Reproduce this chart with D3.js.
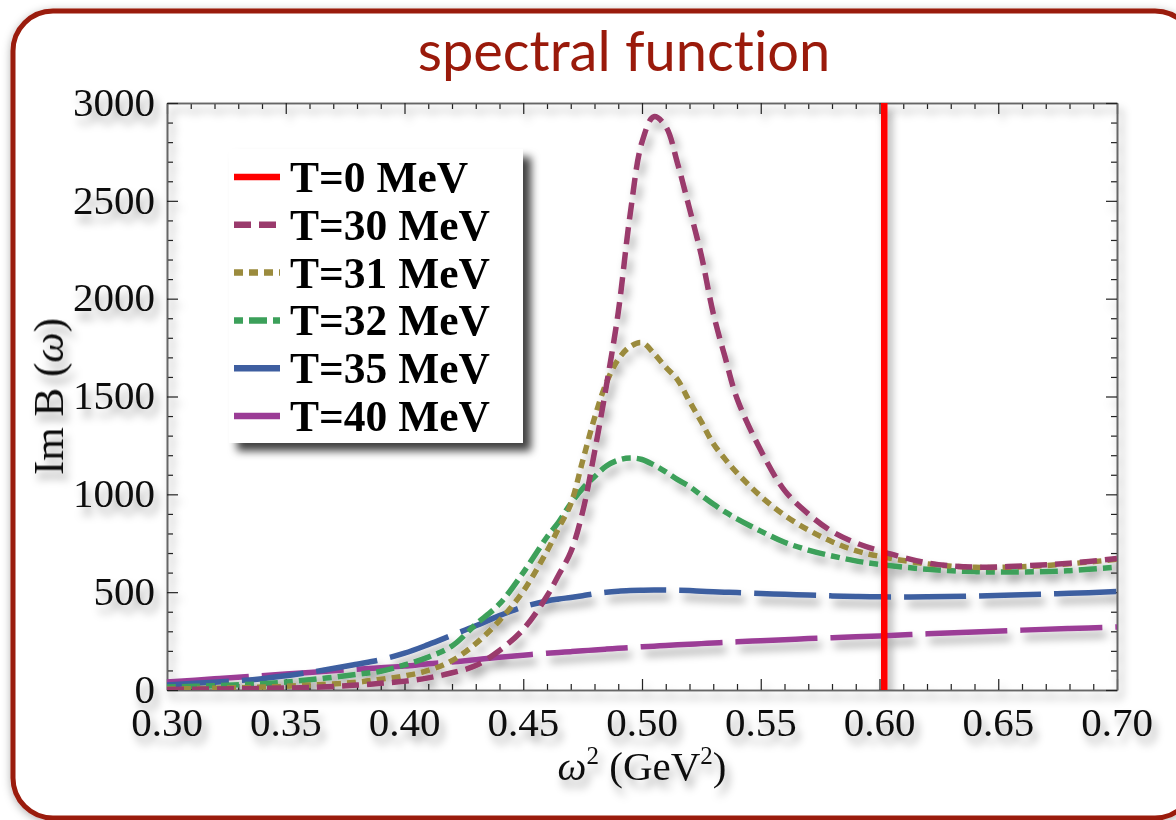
<!DOCTYPE html>
<html><head><meta charset="utf-8">
<script src="https://cdn.jsdelivr.net/npm/d3@7"></script>
<style>
html,body{margin:0;padding:0;background:#fff;}
svg{display:block;}
</style></head>
<body>
<svg id="chart" width="1176" height="820"></svg>
<script>
// ---------------- data ----------------
const xGrid = [0.30,0.32,0.34,0.36,0.38,0.39,0.40,0.41,0.42,0.43,0.44,0.45,0.46,0.465,0.47,0.475,0.48,0.485,0.49,0.495,0.50,0.505,0.51,0.515,0.52,0.525,0.53,0.535,0.54,0.55,0.56,0.57,0.58,0.59,0.60,0.62,0.64,0.66,0.68,0.70];
const t30 = [3,5,8,13,25,34,45,62,88,125,202,310,480,590,705,910,1215,1555,1930,2430,2800,2930,2880,2690,2460,2220,1925,1700,1490,1225,1020,900,810,752,712,650,628,634,648,672];
const t31 = [5,9,15,25,40,55,72,100,150,237,355,505,710,830,950,1170,1390,1570,1690,1755,1775,1720,1650,1585,1475,1370,1260,1180,1110,990,893,818,758,712,683,645,627,630,645,668];
const t32 = [15,22,32,52,80,96,128,168,225,335,440,600,782,860,953,1030,1090,1145,1175,1186,1178,1150,1115,1075,1040,995,950,910,875,812,755,715,685,660,642,617,605,603,610,628];
const t35 = [26,40,58,90,132,155,188,232,280,328,380,425,455,465,473,482,492,500,505,508,510,511,511,510,508,505,502,500,498,493,489,485,481,478,476,476,480,487,494,503];
const t40 = [41,57,73,90,106,114,122,134,143,155,167,178,188,192,196,200,205,209,213,217,221,224,228,231,234,237,240,243,246,252,257,263,267,272,276,287,297,306,314,322];
const t0X = 0.602; // T=0 : vertical line position
const legendLabels = ["T=0 MeV","T=30 MeV","T=31 MeV","T=32 MeV","T=35 MeV","T=40 MeV"];
const xTickValues = [0.30,0.35,0.40,0.45,0.50,0.55,0.60,0.65,0.70];
const xTickLabels = ["0.30","0.35","0.40","0.45","0.50","0.55","0.60","0.65","0.70"];
const yTickValues = [0,500,1000,1500,2000,2500,3000];
const yTickLabels = ["0","500","1000","1500","2000","2500","3000"];
const titleText = "spectral function";

// ---------------- styles ----------------
const colors = ["#ff0000","#9a3a6c","#9b8b3d","#3ca05a","#3e5ea0","#9b3c96"];
const dashes = [null,"17,8","9,6","9,6,18,6","62,13","82,13"];
const seriesData = [null,t30,t31,t32,t35,t40];

const svg = d3.select("#chart");
const W = 1176, H = 820;
const L = 167, R = 1117, T = 103, B = 690;

const defs = svg.append("defs");
function shadow(id, dx, dy, sd, op){
  const f = defs.append("filter").attr("id", id)
    .attr("filterUnits","userSpaceOnUse").attr("x",0).attr("y",0).attr("width",W).attr("height",H);
  f.append("feDropShadow").attr("dx",dx).attr("dy",dy).attr("stdDeviation",sd)
   .attr("flood-color","#000").attr("flood-opacity",op);
}
shadow("sh",4,7,4.5,0.35);
shadow("shText",4,8,4,0.35);
shadow("shLeg",8,8,4,0.75);
shadow("shFrame",0,2,4,0.3);
defs.append("clipPath").attr("id","clip").append("rect")
  .attr("x",L).attr("y",T-2).attr("width",R-L).attr("height",B-T+2);

// outer rounded frame
svg.append("rect").attr("x",13).attr("y",11).attr("width",1195-13).attr("height",818-11)
  .attr("rx",40).attr("ry",40).attr("fill","#fff")
  .attr("stroke","#9a1a0b").attr("stroke-width",5).attr("filter","url(#shFrame)");

// title
svg.append("text").attr("x",624).attr("y",71).attr("text-anchor","middle")
  .attr("font-family","Lato, 'Open Sans', sans-serif").attr("font-size",56)
  .style("font-variant-ligatures","none")
  .attr("fill","#9a1a0b").text(titleText);

const x = d3.scaleLinear().domain([0.30,0.70]).range([L,R]);
const y = d3.scaleLinear().domain([0,3000]).range([B,T]);

// axes / frame
const axG = svg.append("g").attr("filter","url(#sh)");
const xMinor = d3.range(30,71).map(d=>d/100).filter(v=>Math.round(v*100)%5!==0);
const yMinor = d3.range(0,3001,100).filter(v=>v%500!==0);

function styleAxis(g){
  g.select(".domain").attr("stroke","#666").attr("stroke-width",1.6);
  g.selectAll(".tick line").attr("stroke","#222").attr("stroke-width",1.2);
  g.selectAll("text").remove();
}
const sides = [
  {ax:d3.axisBottom, sc:x, tr:`translate(0,${B})`, maj:xTickValues, min:xMinor},
  {ax:d3.axisTop, sc:x, tr:`translate(0,${T})`, maj:xTickValues, min:xMinor},
  {ax:d3.axisLeft, sc:y, tr:`translate(${L},0)`, maj:yTickValues, min:yMinor},
  {ax:d3.axisRight, sc:y, tr:`translate(${R},0)`, maj:yTickValues, min:yMinor}
];
sides.forEach(s=>{
  axG.append("g").attr("transform",s.tr)
    .call(s.ax(s.sc).tickValues(s.min).tickSizeInner(-6).tickSizeOuter(0))
    .call(styleAxis);
  axG.append("g").attr("transform",s.tr)
    .call(s.ax(s.sc).tickValues(s.maj).tickSizeInner(-11).tickSizeOuter(0))
    .call(styleAxis);
});

// tick labels
const labG = svg.append("g").attr("filter","url(#shText)")
  .attr("font-family","'Liberation Serif','Times New Roman',serif").attr("font-size",41).attr("fill","#111");
labG.selectAll(".xl").data(xTickValues).join("text")
  .attr("x",d=>x(d)).attr("y",B+46).attr("text-anchor","middle")
  .text((d,i)=>xTickLabels[i]);
labG.selectAll(".yl").data(yTickValues).join("text")
  .attr("x",L-12).attr("y",d=>y(d)).attr("dy","0.31em").attr("text-anchor","end")
  .text((d,i)=>yTickLabels[i]);

// axis titles
const xt = labG.append("text").attr("x",(L+R)/2).attr("y",780).attr("text-anchor","middle").attr("font-size",41);
xt.append("tspan").attr("font-style","italic").text("ω");
xt.append("tspan").attr("dy",-16).attr("font-size",25).text("2");
xt.append("tspan").attr("dy",16).text(" (GeV");
xt.append("tspan").attr("dy",-16).attr("font-size",25).text("2");
xt.append("tspan").attr("dy",16).text(")");

const yt = labG.append("text").attr("transform",`translate(63,${(T+B)/2}) rotate(-90)`)
  .attr("text-anchor","middle").attr("font-size",43);
yt.append("tspan").text("Im B (");
yt.append("tspan").attr("font-style","italic").text("ω");
yt.append("tspan").text(")");

// curves
const line = d3.line().x((d,i)=>x(xGrid[i])).y(d=>y(d)).curve(d3.curveCatmullRom.alpha(0.5));
const cG = svg.append("g").attr("clip-path","url(#clip)").append("g").attr("filter","url(#sh)");
[5,4,3,2,1].forEach(k=>{
  cG.append("path").datum(seriesData[k]).attr("d",line)
    .attr("fill","none").attr("stroke",colors[k]).attr("stroke-width",5.5)
    .attr("stroke-dasharray",dashes[k]).attr("stroke-linecap","butt");
});
cG.append("line").attr("x1",x(t0X)).attr("x2",x(t0X)).attr("y1",T).attr("y2",B)
  .attr("stroke",colors[0]).attr("stroke-width",6.5);

// legend
const lg = svg.append("g");
lg.append("rect").attr("x",229).attr("y",149).attr("width",294).attr("height",294)
  .attr("fill","#fff").attr("filter","url(#shLeg)");
legendLabels.forEach((lab,i)=>{
  const cy = 177 + i*47.8;
  lg.append("line").attr("x1",234).attr("x2",280).attr("y1",cy).attr("y2",cy)
    .attr("stroke",colors[i]).attr("stroke-width",6.5).attr("stroke-dasharray",dashes[i]);
  lg.append("text").attr("x",290).attr("y",cy+15)
    .attr("font-family","'Liberation Serif','Times New Roman',serif").attr("font-weight","bold")
    .attr("font-size",43.5).attr("fill","#000").text(lab);
});
</script>
</body></html>
